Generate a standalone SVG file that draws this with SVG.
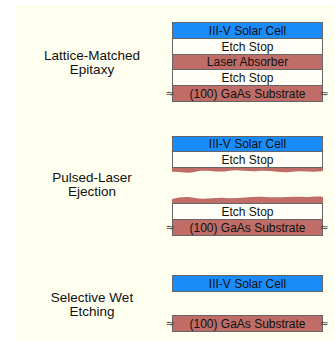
<svg xmlns="http://www.w3.org/2000/svg" width="335" height="341" viewBox="0 0 335 341">
<style>
.lbl{font-family:"Liberation Sans",Arial,sans-serif;font-size:13.5px;fill:#111;text-anchor:middle}
.lt{font-family:"Liberation Sans",Arial,sans-serif;font-size:12px;fill:#111;text-anchor:middle}
.blue{fill:#1a8cfa;stroke:#666;stroke-width:1}
.etch{fill:#fffff8;stroke:#666;stroke-width:1}
.red{fill:#bf6d66;stroke:#666;stroke-width:1}
.redn{fill:#bf6d66;stroke:none}
.sq{font-family:"DejaVu Sans",sans-serif;font-size:11px;fill:#444;text-anchor:middle}
</style>
<rect x="15" y="5" width="320" height="336" fill="#fffff0"/>
<g id="label-lme">
<text class="lbl" x="92" y="60">Lattice-Matched</text>
<text class="lbl" x="92" y="74">Epitaxy</text>
</g>
<g id="label-ple">
<text class="lbl" x="92" y="182">Pulsed-Laser</text>
<text class="lbl" x="92" y="196">Ejection</text>
</g>
<g id="label-swe">
<text class="lbl" x="92" y="302">Selective Wet</text>
<text class="lbl" x="92" y="316">Etching</text>
</g>
<g id="stack1">
<rect class="blue" x="172.5" y="22.5" width="150" height="16"/>
<text class="lt" x="247.5" y="34.5">III-V Solar Cell</text>
<rect class="etch" x="172.5" y="38.5" width="150" height="16"/>
<text class="lt" x="247.5" y="50.5">Etch Stop</text>
<rect class="red" x="172.5" y="54.5" width="150" height="15"/>
<text class="lt" x="247.5" y="66">Laser Absorber</text>
<rect class="etch" x="172.5" y="69.5" width="150" height="16"/>
<text class="lt" x="247.5" y="81.5">Etch Stop</text>
<rect class="red" x="172.5" y="85.5" width="150" height="16"/>
<text class="lt" x="247.5" y="97.5">(100) GaAs Substrate</text>
<text class="sq" x="170" y="97">≈</text>
<text class="sq" x="324" y="97">≈</text>
</g>
<g id="stack2-top">
<path class="redn" d="M172,167 H323 V171 C312,173 302,170 290,172 C280,173 270,170 258,171 C247,172 238,169 228,171 C218,173 205,169 195,172 C186,174 179,171 172,172 Z"/>
<rect class="blue" x="172.5" y="136.5" width="150" height="15"/>
<text class="lt" x="247.5" y="148">III-V Solar Cell</text>
<rect class="etch" x="172.5" y="151.5" width="150" height="16"/>
<text class="lt" x="247.5" y="163.5">Etch Stop</text>
</g>
<g id="stack2-bottom">
<path class="redn" d="M172,204 V199 C180,197 186,196 195,198 C205,200 215,197 225,198 C240,199 250,196 265,197 C280,198 295,196 305,197 C312,197 318,196 323,197 V204 Z"/>
<rect class="etch" x="172.5" y="203.5" width="150" height="16"/>
<text class="lt" x="247.5" y="215.5">Etch Stop</text>
<rect class="red" x="172.5" y="219.5" width="150" height="16"/>
<text class="lt" x="247.5" y="231.5">(100) GaAs Substrate</text>
<text class="sq" x="170" y="231">≈</text>
<text class="sq" x="324" y="231">≈</text>
</g>
<g id="stack3">
<rect class="blue" x="172.5" y="275.5" width="150" height="16"/>
<text class="lt" x="247.5" y="287.5">III-V Solar Cell</text>
<rect class="red" x="172.5" y="315.5" width="150" height="16"/>
<text class="lt" x="247.5" y="327.5">(100) GaAs Substrate</text>
<text class="sq" x="170" y="327">≈</text>
<text class="sq" x="324" y="327">≈</text>
</g>
<g id="connectors"></g>
</svg>
